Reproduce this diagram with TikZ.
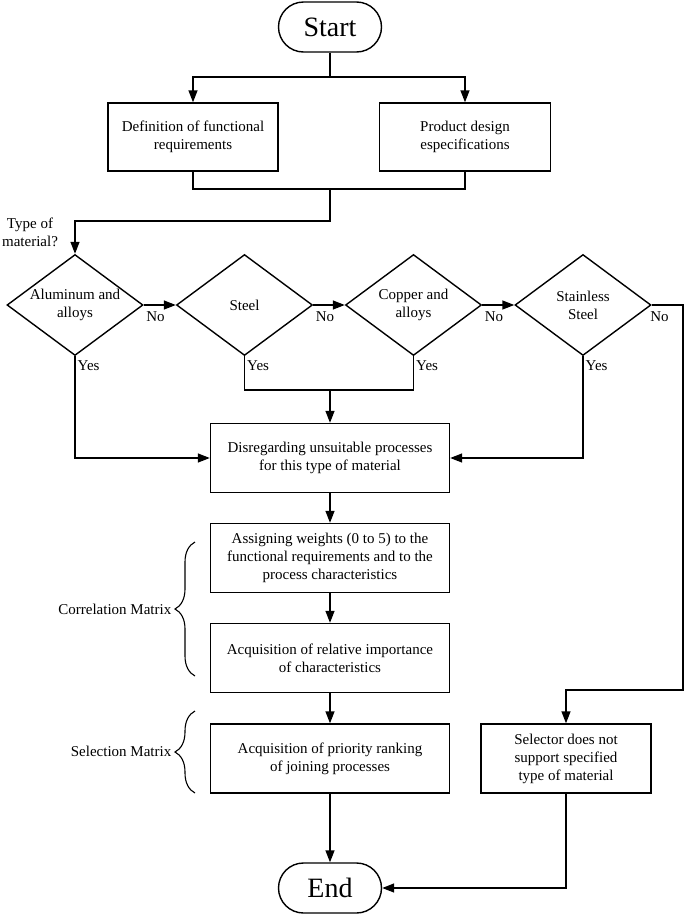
\documentclass[tikz,border=0pt]{standalone}
\usepackage{fontspec}
\setmainfont{Liberation Serif}
\usetikzlibrary{arrows.meta,shapes.geometric,decorations.pathreplacing}
\begin{document}
\begin{tikzpicture}[x=1pt,y=-1pt, line width=1.4pt,
  >={Triangle[length=12pt,width=9pt]},
  txt/.style={font=\fontsize{15}{18}\selectfont},
  box/.style={draw, rectangle, align=center, txt, inner sep=0pt, minimum width=239pt, minimum height=69pt},
  dec/.style={draw, diamond, minimum width=136pt, minimum height=101pt, inner sep=0pt},
  dtext/.style={txt, align=center, inner sep=0pt},
  term/.style={draw, rectangle, rounded corners=25pt, minimum width=103pt, minimum height=50pt, inner sep=0pt, font=\fontsize{28}{32}\selectfont},
  lab/.style={txt, inner sep=0pt},
  brc/.style={line width=1.1pt, decorate, decoration={brace, amplitude=20pt}}]
\useasboundingbox (0,0) rectangle (685,916);

\node[term] (start) at (330,27) {Start};
\node[box, minimum width=170pt, minimum height=68pt] (b1) at (193,137) {Definition of functional\\requirements};
\node[box, minimum width=171pt, minimum height=68pt] (b2) at (465,137) {Product design\\especifications};

\node[lab, align=center] (tom) at (30,232) {Type of\\material?};

\node[dec, label={[dtext]center:Aluminum and\\alloys}] (d1) at (75,305) {};
\node[dec, label={[dtext]center:Steel}] (d2) at (244.5,305) {};
\node[dec, label={[dtext]center:Copper and\\alloys}] (d3) at (413.5,305) {};
\node[dec, label={[dtext]center:Stainless\\Steel}] (d4) at (583,305) {};

\node[box] (p1) at (330,458) {Disregarding unsuitable processes\\for this type of material};
\node[box] (p2) at (330,558) {Assigning weights (0 to 5) to the\\functional requirements and to the\\process characteristics};
\node[box] (p3) at (330,658) {Acquisition of relative importance\\of characteristics};
\node[box] (p4) at (330,758.5) {Acquisition of priority ranking\\of joining processes};
\node[box, minimum width=170pt] (sel) at (566,758.5) {Selector does not\\support specified\\type of material};
\node[term] (end) at (330,888) {End};

% top connectors
\coordinate (s1) at (330,77);
\draw (start) -- (s1);
\draw[->] (s1) -| (b1.north);
\draw[->] (s1) -| (b2.north);
\coordinate (j1) at (330,189);
\coordinate (j2) at (330,221);
\draw (b1.south) |- (j1) -| (b2.south);
\draw[->] (j1) -- (j2) -| (d1.north);

% No branches
\draw[->] (d1.east) -- (d2.west);
\draw[->] (d2.east) -- (d3.west);
\draw[->] (d3.east) -- (d4.west);
\coordinate (r1) at (683,305);
\coordinate (r2) at (566,690);
\draw[->] (d4.east) -- (r1) |- (r2) -- (sel.north);
\node[lab, anchor=west] (no1) at ([shift={(2,12)}]d1.east) {No};
\node[lab, anchor=west] (no2) at ([shift={(2,12)}]d2.east) {No};
\node[lab, anchor=west] (no3) at ([shift={(2,12)}]d3.east) {No};
\node[lab, anchor=west] (no4) at ([shift={(-2,12)}]d4.east) {No};

% Yes branches
\coordinate (j3) at (330,390);
\draw[->] (d1.south) |- (p1.west);
\draw[->] (d4.south) |- (p1.east);
\draw (d2.south) |- (j3) -| (d3.south);
\draw[->] (j3) -- (p1.north);
\node[lab, anchor=west] (yes1) at ([shift={(2,9)}]d1.south) {Yes};
\node[lab, anchor=west] (yes2) at ([shift={(2,9)}]d2.south) {Yes};
\node[lab, anchor=west] (yes3) at ([shift={(2,9)}]d3.south) {Yes};
\node[lab, anchor=west] (yes4) at ([shift={(2,9)}]d4.south) {Yes};

% main chain
\draw[->] (p1) -- (p2);
\draw[->] (p2) -- (p3);
\draw[->] (p3) -- (p4);
\draw[->] (p4) -- (end);
\draw[->] (sel.south) |- (end.east);

% braces
\draw[brc] (195,676) -- (195,542);
\node[lab, anchor=east] (cm) at (172,609) {Correlation Matrix};
\draw[brc] (195,793) -- (195,711);
\node[lab, anchor=east] (sm) at (172,751) {Selection Matrix};
\end{tikzpicture}
\end{document}
